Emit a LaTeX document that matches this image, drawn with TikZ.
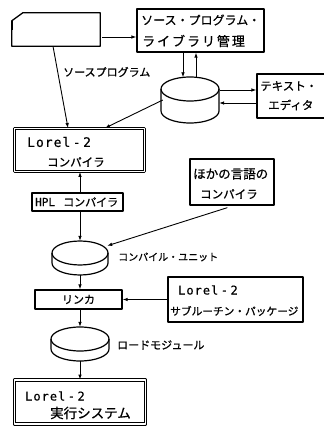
\documentclass[tikz,border=0pt]{standalone}
\usepackage{fontspec}
\setmainfont{Noto Sans CJK JP}[FakeBold=0.8]
\newfontfamily\monof{DejaVu Sans Mono}[FakeBold=0.6]
\usetikzlibrary{arrows.meta,calc}
\newcommand\lorelname{L\kern1pt o\kern1pt r\kern1pt e\kern1pt l\kern2.5pt-\kern2.5pt 2}
\newcommand\drawdisk[5]{%
  \draw[diskline] (#1-#3,#2) arc[start angle=180,end angle=0,x radius=#3pt,y radius=#4pt]
     -- (#1+#3,#5) arc[start angle=0,end angle=-180,x radius=#3pt,y radius=#4pt] -- cycle;
  \draw[diskline] (#1-#3,#2) arc[start angle=180,end angle=360,x radius=#3pt,y radius=#4pt];
}
\begin{document}
\begin{tikzpicture}[x=1pt,y=-1pt,line join=round,
  box/.style={draw,line width=1.3pt,inner sep=0pt},
  dbox/.style={draw,double,double distance=1.5pt,line width=0.9pt,inner sep=0pt},
  conn/.style={line width=0.9pt,-{Latex[length=5pt,width=3.6pt]}},
  diskline/.style={line width=1.2pt},
  jp/.style={inner sep=0pt,anchor=west},
  fs/.style={font=\fontsize{#1}{#1}\selectfont},
  fsls/.style={font=\fontsize{#1}{#1}\selectfont\addfontfeature{LetterSpace=15}},
  mono/.style={font=\fontsize{#1}{#1}\selectfont\monof}]
\useasboundingbox (0,0) rectangle (323,427);
\fill[white] (0,0) rectangle (323,427);

% boxes
\node[box,minimum width=127pt,minimum height=43pt] (mgmt) at (200.5,30.5) {};
\node[box,minimum width=80pt,minimum height=44pt] (edit) at (297,96) {};
\node[box,minimum width=84pt,minimum height=46pt] (other) at (232,182) {};
\node[box,minimum width=91pt,minimum height=18pt] (hpl) at (77.5,202) {};
\node[box,minimum width=87pt,minimum height=19pt] (link) at (78.5,299.5) {};
\node[box,minimum width=135pt,minimum height=45pt] (sub) at (235.5,299.5) {};
\node[dbox,minimum width=130pt,minimum height=43pt] (comp) at (79.5,150) {};
\node[dbox,minimum width=131pt,minimum height=44pt] (run) at (80,402) {};

% card
\node[minimum width=88pt,minimum height=33pt,inner sep=0pt] (card) at (56,29.5) {};
\draw[line width=1.3pt] ($(card.north west)+(0,8)$) -- ($(card.north west)+(11,0)$)
  -- (card.north east) -- (card.south east) -- (card.south west) -- cycle;
\draw[line width=2.6pt] ($(card.north west)+(0,8)$) -- ($(card.north west)+(0,17)$);

% disks
\node[minimum width=58pt,minimum height=46pt,inner sep=0pt] (d1) at (190,100) {};
\node[minimum width=56pt,minimum height=34pt,inner sep=0pt] (d2) at (80,258) {};
\node[minimum width=58pt,minimum height=34pt,inner sep=0pt] (d3) at (80,344) {};
\drawdisk{190}{89}{29}{12}{111}
\drawdisk{80}{253}{28}{12}{263}
\drawdisk{80}{339}{29}{12}{349}

% connectors
\draw[conn] ($(card.east)+(2,7.5)$) -- ($(mgmt.west)+(0,6.5)$);
\draw[conn] ($(mgmt.south)+(-17.5,0)$) -- ($(d1.north)+(-7,0.5)$);
\draw[conn] ($(d1.north)+(6,0)$) -- ($(mgmt.south)+(-4.5,0)$);
\draw[conn] ($(d1.east)+(1,-10)$) -- ($(edit.west)+(0,-6)$);
\draw[conn] ($(edit.west)+(0,7)$) -- ($(d1.east)+(0,3)$);
\draw[conn] ($(card.south)+(-3,0)$) -- ($(comp.north)+(-11.5,0)$);
\draw[conn] ($(d1.west)+(2,0)$) -- ($(comp.north)+(25.5,0)$);
\draw[conn] (hpl.north -| d2.north) -- (comp.south -| d2.north);
\draw[conn] (hpl.south -| d2.north) -- (d2.north);
\draw[conn] ($(other.south west)+(38,2)$) -- ($(d2.north east)+(-1,5)$);
\draw[conn] (d2.south) -- (link.north -| d2.south);
\draw[conn] (sub.west) -- (link.east);
\draw[conn] (link.south -| d3.north) -- (d3.north);
\draw[conn] (d3.south) -- (run.north -| d3.south);

% texts
\node[jp,fs=12] at (141,20) {ソース・プログラム・};
\node[jp,fsls=13] at (142,41) {ライブラリ管理};
\node[jp,fs=11.5] at (260,86) {テキスト・};
\node[jp,fs=11.5] at (268,105) {エディタ};
\node[jp,fs=11] at (63,72) {ソースプログラム};
\node[jp,mono=13] at (27,142) {\lorelname};
\node[jp,fs=11.5] at (47,162) {コンパイラ};
\node[jp,mono=11] at (35,202) {HPL};
\node[jp,fs=11] at (63,202) {コンパイラ};
\node[jp,fs=12.5] at (193,174) {ほかの言語の};
\node[jp,fs=11.5] at (200,194) {コンパイラ};
\node[jp,fs=10] at (118,257) {コンパイル・ユニット};
\node[inner sep=0pt,fs=11] at (link.center) {リンカ};
\node[jp,mono=12] at (178,290) {\lorelname};
\node[jp,fs=10.7] at (170,311) {サブルーチン・パッケージ};
\node[jp,fs=11] at (117,345) {ロードモジュール};
\node[jp,mono=12] at (25,396) {\lorelname};
\node[jp,fs=13.5] at (50,413) {実行システム};
\end{tikzpicture}
\end{document}
